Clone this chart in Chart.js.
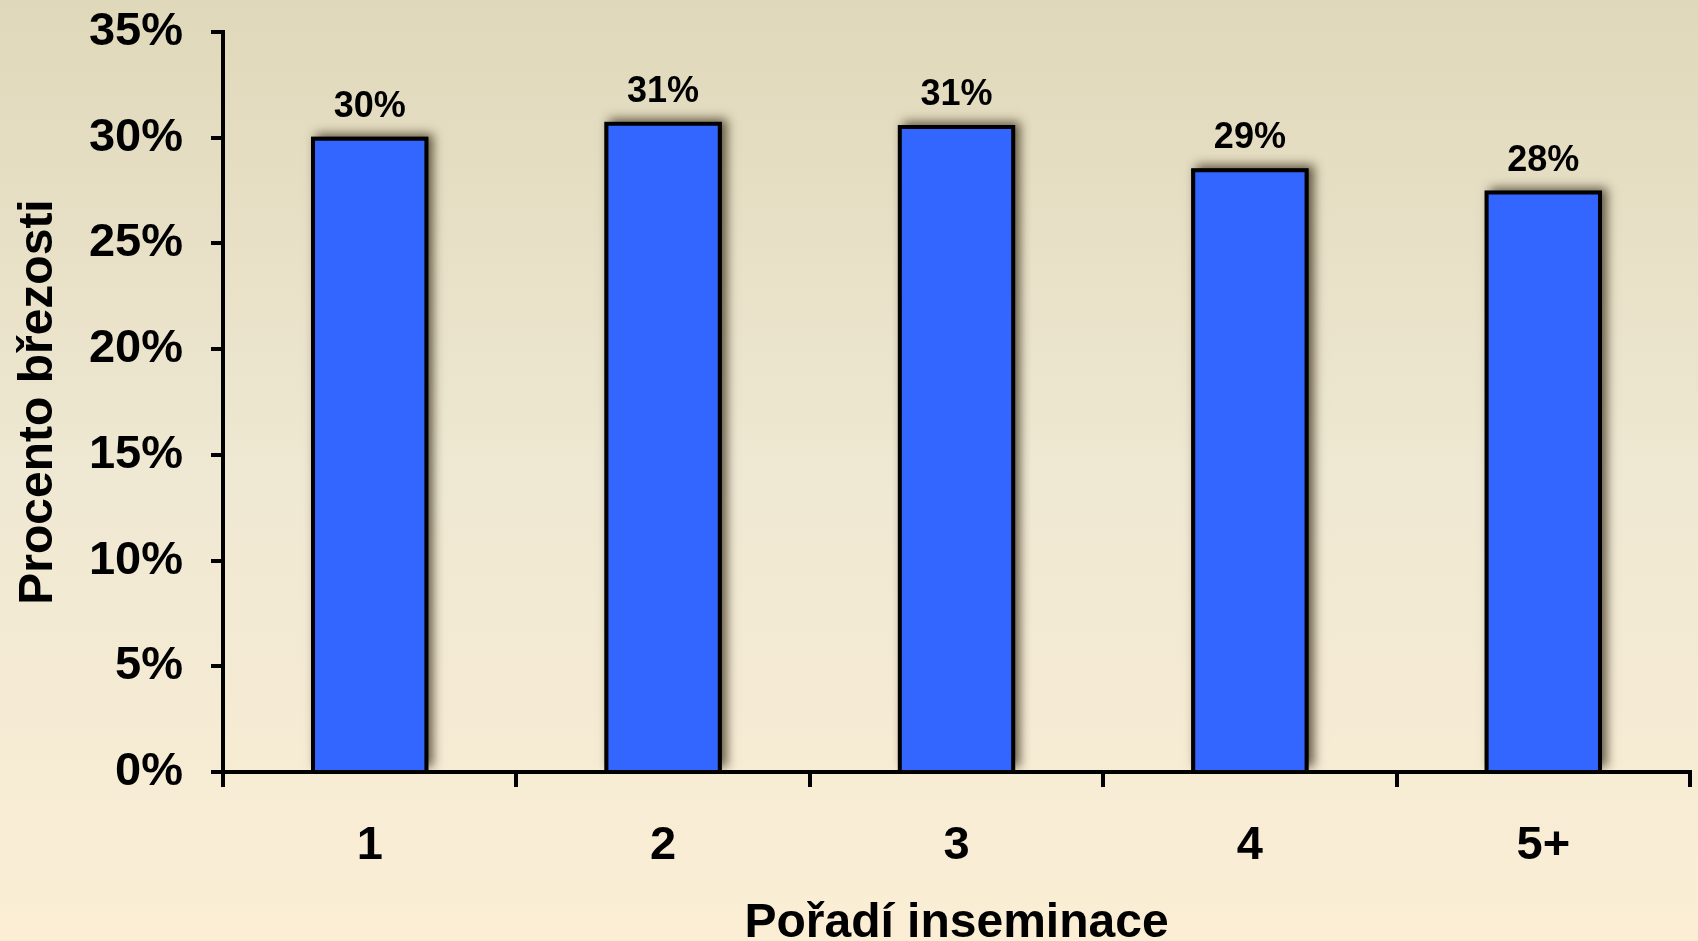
<!DOCTYPE html>
<html>
<head>
<meta charset="utf-8">
<script src="https://cdn.jsdelivr.net/npm/chart.js@4"></script>
<style>
  body { margin: 0; background: #f3ead2; }
  canvas { display: block; }
</style>
</head>
<body>
<canvas id="chart" width="1698" height="941"></canvas>
<script>

// data
var categories = ['1', '2', '3', '4', '5+'];
var pregnancyRate = [30.05, 30.75, 30.6, 28.55, 27.5];
var yTicks = [0, 5, 10, 15, 20, 25, 30, 35];

var FONT = '"Liberation Sans", Arial, sans-serif';

// background gradient
var bgPlugin = {
  id: 'bg',
  beforeDraw: function(chart) {
    var ctx = chart.ctx;
    var g = ctx.createLinearGradient(0, 0, 0, chart.height);
    g.addColorStop(0, '#e0d8ba');
    g.addColorStop(0.5, '#efe8d2');
    g.addColorStop(1, '#fbeed5');
    ctx.save();
    ctx.fillStyle = g;
    ctx.fillRect(0, 0, chart.width, chart.height);
    ctx.restore();
  }
};

// soft shadow behind the bars + value labels above them
var barExtras = {
  id: 'barExtras',
  beforeDatasetsDraw: function(chart) {
    var ctx = chart.ctx;
    var area = chart.chartArea;
    ctx.save();
    ctx.beginPath();
    ctx.rect(area.left, 0, area.right - area.left, area.bottom);
    ctx.clip();
    ctx.shadowColor = 'rgba(40,30,10,0.7)';
    ctx.shadowBlur = 10;
    ctx.shadowOffsetX = 5;
    ctx.shadowOffsetY = -3;
    ctx.fillStyle = '#000';
    chart.getDatasetMeta(0).data.forEach(function(bar) {
      var w = bar.width;
      ctx.fillRect(bar.x - w / 2, bar.y, w, bar.base - bar.y);
    });
    ctx.restore();
  },
  afterDatasetsDraw: function(chart) {
    var ctx = chart.ctx;
    ctx.save();
    ctx.font = 'bold 36px ' + FONT;
    ctx.fillStyle = '#000';
    ctx.textAlign = 'center';
    ctx.textBaseline = 'alphabetic';
    chart.getDatasetMeta(0).data.forEach(function(bar, i) {
      ctx.fillText(Math.round(pregnancyRate[i]) + '%', bar.x, bar.y - 20);
    });
    ctx.restore();
  }
};

var ctx = document.getElementById('chart');
var chart = new Chart(ctx, {
  type: 'bar',
  data: {
    labels: categories,
    datasets: [{
      label: 'Procento březosti',
      data: pregnancyRate,
      backgroundColor: '#3366ff',
      borderColor: '#000',
      borderWidth: 4,
      barPercentage: 0.4,
      categoryPercentage: 1.0
    }]
  },
  options: {
    responsive: false,
    animation: false,
    layout: { padding: { top: 32, right: 8, left: 0, bottom: 0 } },
    plugins: {
      legend: { display: false },
      tooltip: { enabled: false }
    },
    scales: {
      x: {
        afterFit: function(scale) {
          scale.height = 169;
          scale.paddingLeft = 0;
          scale.paddingRight = 0;
        },
        grid: {
          drawOnChartArea: false,
          drawTicks: true,
          tickLength: 15,
          color: '#000',
          lineWidth: 4,
          offset: true
        },
        border: { display: true, color: '#000', width: 4 },
        ticks: {
          color: '#000',
          padding: 31,
          font: { family: FONT, size: 47, weight: 'bold' }
        },
        title: {
          display: true,
          text: 'Pořadí inseminace',
          color: '#000',
          padding: { top: 0, bottom: -12 },
          font: { family: FONT, size: 48, weight: 'bold' }
        }
      },
      y: {
        min: 0,
        max: 35,
        afterFit: function(scale) {
          scale.width = 223;
          scale.paddingTop = 0;
          scale.paddingBottom = 0;
        },
        afterBuildTicks: function(scale) {
          scale.ticks = yTicks.map(function(v) { return { value: v }; });
        },
        grid: {
          drawOnChartArea: false,
          drawTicks: true,
          tickLength: 12,
          color: '#000',
          lineWidth: 4
        },
        border: { display: true, color: '#000', width: 4 },
        ticks: {
          color: '#000',
          padding: 28,
          font: { family: FONT, size: 47, weight: 'bold' },
          callback: function(v) { return v + '%'; }
        },
        title: {
          display: true,
          text: 'Procento březosti',
          color: '#000',
          padding: { top: 10, bottom: 0 },
          font: { family: FONT, size: 48, weight: 'bold' }
        }
      }
    }
  },
  plugins: [bgPlugin, barExtras]
});
</script>
</body>
</html>
